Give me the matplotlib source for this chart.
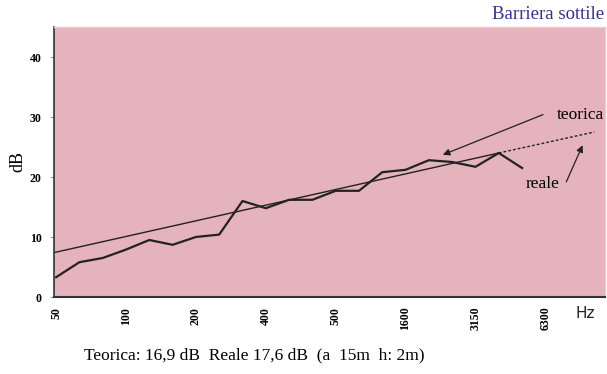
import matplotlib
matplotlib.use("Agg")
import matplotlib.pyplot as plt
import numpy as np

# Third-octave band index (0 = 50 Hz)
band_idx = list(range(21))
reale_db = [3.3, 5.8, 6.5, 7.9, 9.5, 8.7, 10.0, 10.4, 16.0, 14.8, 16.2, 16.2,
            17.7, 17.7, 20.8, 21.2, 22.8, 22.5, 21.7, 24.0, 21.5]
# Theoretical straight line
teo_idx = [-0.09, 19.0, 23.1]
teo_db = [7.4, 24.0, 27.5]

tick_pos = [0, 3, 6, 9, 12, 15, 18, 21]
tick_labels = ["50", "100", "200", "400", "500", "1600", "3150", "6300"]
y_ticks = [0, 10, 20, 30, 40]

serif = ["Liberation Serif", "DejaVu Serif"]

fig = plt.figure(figsize=(6.07, 3.74), dpi=100)
ax = fig.add_axes([54/607, 1-297/374, (605-54)/607, (297-27)/374])
ax.set_facecolor("#E4B3BB")

ax.plot(band_idx, reale_db, color="#222222", lw=1.6, solid_joinstyle="round")
ax.plot(teo_idx[:2], teo_db[:2], color="#222222", lw=1.0)
ax.plot(teo_idx[1:], teo_db[1:], color="#222222", lw=1.0, ls=(0, (2, 1.5)))

ax.set_xlim(-0.09, 23.56)
ax.set_ylim(0, 45)

ax.set_xticks(tick_pos)
ax.set_xticklabels(tick_labels, rotation=90, fontfamily=serif, fontweight="bold",
                   fontsize=8.5, va="top")
ax.set_yticks(y_ticks)
ax.set_yticklabels([str(v) for v in y_ticks], fontfamily=serif, fontweight="bold",
                   fontsize=8.5)
ax.tick_params(axis="x", length=0, pad=7)
ax.tick_params(axis="y", length=3, color="#999999", pad=6)

for s in ["top", "right"]:
    ax.spines[s].set_color("#EBC9CE")
    ax.spines[s].set_linewidth(1.0)
ax.spines["left"].set_color("#333333")
ax.spines["left"].set_linewidth(1.2)
ax.spines["bottom"].set_color("#333333")
ax.spines["bottom"].set_linewidth(1.5)

ax.set_ylabel("dB", fontfamily=serif, fontsize=13, labelpad=2)

# annotations
arrow_kw = dict(arrowstyle="-|>", color="#222222", lw=0.9,
                shrinkA=0, shrinkB=0, mutation_scale=10)
ax.annotate("", xy=(16.6, 23.7), xytext=(20.9, 30.4), arrowprops=arrow_kw)
ax.annotate("", xy=(22.6, 25.3), xytext=(21.9, 19.2), arrowprops=arrow_kw)
ax.text(23.52, 30.4, "teorica", fontfamily=serif, fontsize=12.5,
        ha="right", va="center")
ax.text(20.9, 18.9, "reale", fontfamily=serif, fontsize=12.5,
        ha="center", va="center")

fig.text(0.996, 0.962, "Barriera sottile", color="#333388", fontfamily=serif,
         fontsize=13.5, ha="right", va="center")
fig.text(585/607, 1-313/374, "Hz", fontfamily="DejaVu Sans", fontsize=11,
         ha="center", va="center", color="#222222")
fig.text(254/607, 1-355/374, "Teorica: 16,9 dB  Reale 17,6 dB  (a  15m  h: 2m)",
         fontfamily=serif, fontsize=12.5, ha="center", va="center")

fig.savefig("out.png", dpi=100)
